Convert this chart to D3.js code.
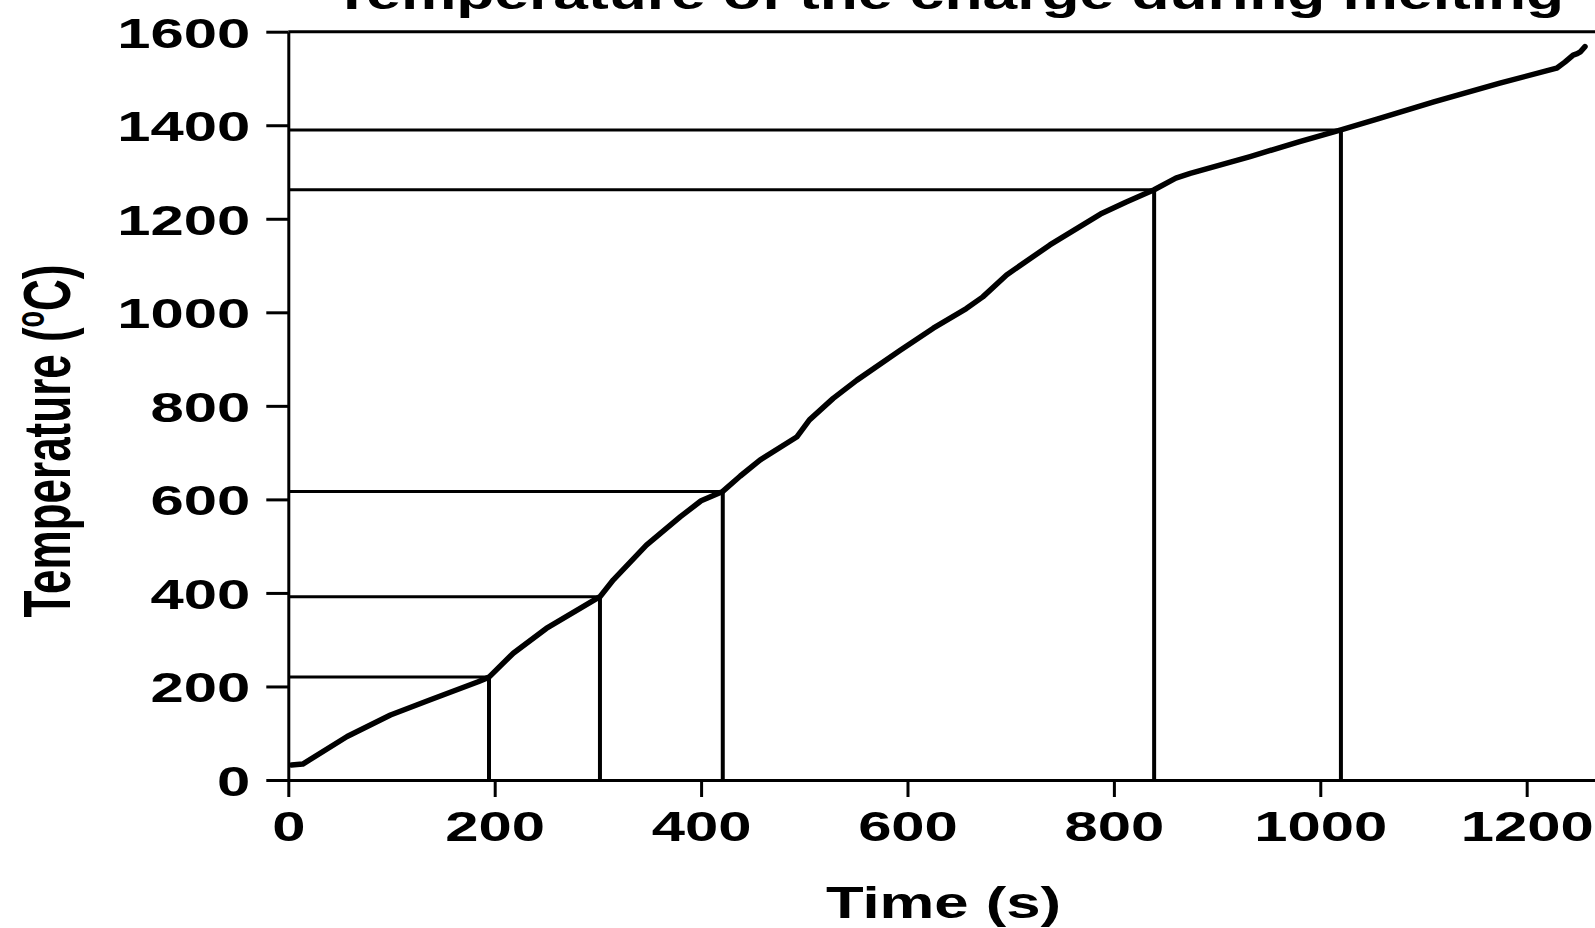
<!DOCTYPE html>
<html>
<head>
<meta charset="utf-8">
<script src="https://cdn.jsdelivr.net/npm/d3@7"></script>
<style>
  html, body { margin: 0; padding: 0; background: #fff; }
  svg { display: block; }
  text { font-family: "Liberation Sans", Arial, Helvetica, sans-serif; font-weight: bold; fill: #000; }
</style>
</head>
<body>
<svg id="chart" width="1595" height="928"></svg>
<script>
// Charge temperature recorded during melting
const timeSec = [3, 14, 57, 99, 137, 184, 194.5, 218, 250, 302, 315, 347, 380, 400, 421, 438, 457, 493, 505, 528, 551, 593, 625, 657, 673, 696, 738, 787, 812, 839, 860, 874, 932, 980, 1020, 1055, 1110, 1174, 1229, 1237, 1245, 1249, 1252, 1256.5];
const tempC   = [32, 34, 93, 139, 171, 210, 220, 271, 324, 392, 428, 502, 563, 597, 617, 650, 684, 734, 770, 816, 855, 919, 966, 1008, 1033, 1080, 1144, 1210, 1236, 1262, 1287, 1297, 1333, 1365, 1390, 1413, 1450, 1490, 1522, 1535, 1550, 1553, 1557, 1568];

// Marked stages: drop lines to the time axis, leader lines to the temperature axis
const markTime = [194.5, 302, 421, 839, 1020];
const markTemp = [220, 392, 617, 1262, 1390];

// Axis ticks and labels
const xMajor = [0, 200, 400, 600, 800, 1000, 1200];
const xMinor = [100, 300, 500, 700, 900, 1100];
const yMajor = [0, 200, 400, 600, 800, 1000, 1200, 1400, 1600];
const yMinor = [100, 300, 500, 700, 900, 1100, 1300, 1500];

const titleText = "Temperature of the charge during melting";
const xTitle = "Time (s)";
const yTitleMain = "Temperature (";
const yTitleSup = "o";
const yTitleEnd = "C)";

const svg = d3.select("#chart");
const W = 1595, H = 928;
svg.append("rect").attr("width", W).attr("height", H).attr("fill", "#fff");

const x = d3.scaleLinear().domain([0, 1266.2]).range([288.3, 1595]);
const y = d3.scaleLinear().domain([0, 1600]).range([780, 31.7]);

const SX = 1.39;   // wide bold lettering
const FS = 43;
const fmt = d3.format("d");

// reference lines
const refs = svg.append("g").attr("stroke", "#000").attr("fill", "none");
refs.selectAll("line.h").data(markTime).join("line")
  .attr("class", "h")
  .attr("x1", x(0)).attr("x2", (d) => x(d))
  .attr("y1", (d, i) => y(markTemp[i])).attr("y2", (d, i) => y(markTemp[i]))
  .attr("stroke-width", 3);
refs.selectAll("line.v").data(markTime).join("line")
  .attr("class", "v")
  .attr("x1", (d) => x(d)).attr("x2", (d) => x(d))
  .attr("y1", y(0)).attr("y2", (d, i) => y(markTemp[i]))
  .attr("stroke-width", 4);

// top frame line
svg.append("line")
  .attr("x1", x(0)).attr("x2", x(1266.2))
  .attr("y1", y(1600)).attr("y2", y(1600))
  .attr("stroke", "#000").attr("stroke-width", 3);

// x axis
const gx = svg.append("g").attr("transform", `translate(0,${y(0)})`);
gx.call(d3.axisBottom(x).tickValues(xMinor).tickSize(9).tickSizeOuter(0).tickFormat(""));
gx.call(d3.axisBottom(x).tickValues(xMajor).tickSize(17).tickSizeOuter(0).tickFormat(fmt));
gx.selectAll("path, line").attr("stroke", "#000").attr("stroke-width", 3);
gx.selectAll("text")
  .attr("font-size", FS).attr("fill", "#000")
  .attr("y", 0).attr("dy", null)
  .attr("transform", `translate(0,61) scale(${SX},1)`)
  .attr("text-anchor", "middle");

// y axis
const gy = svg.append("g").attr("transform", `translate(${x(0)},0)`);
gy.call(d3.axisLeft(y).tickValues(yMinor).tickSize(12).tickSizeOuter(0).tickFormat(""));
gy.call(d3.axisLeft(y).tickValues(yMajor).tickSize(22).tickSizeOuter(0).tickFormat(fmt));
gy.selectAll("path, line").attr("stroke", "#000").attr("stroke-width", 3);
gy.selectAll("text")
  .attr("font-size", FS).attr("fill", "#000")
  .attr("x", 0).attr("dy", "0.358em")
  .attr("transform", `translate(-38,0) scale(${SX},1)`)
  .attr("text-anchor", "end");

// temperature curve
const pts = timeSec.map((t, i) => [t, tempC[i]]);
svg.append("path")
  .datum(pts)
  .attr("fill", "none")
  .attr("stroke", "#000")
  .attr("stroke-width", 5.5)
  .attr("stroke-linejoin", "round")
  .attr("stroke-linecap", "round")
  .attr("d", d3.line().x((d) => x(d[0])).y((d) => y(d[1])));

// titles
svg.append("text")
  .attr("text-anchor", "middle")
  .attr("font-size", 45)
  .attr("transform", `translate(948.5,9) scale(1.385,1)`)
  .text(titleText);

svg.append("text")
  .attr("text-anchor", "middle")
  .attr("font-size", 45)
  .attr("transform", `translate(943.5,918) scale(1.37,1)`)
  .text(xTitle);

const yt = svg.append("text")
  .attr("text-anchor", "middle")
  .attr("font-size", 44)
  .attr("transform", `translate(70,441) rotate(-90) scale(1,1.52)`);
yt.append("tspan").text(yTitleMain);
yt.append("tspan").attr("font-size", 27).attr("dy", -17).text(yTitleSup);
yt.append("tspan").attr("dy", 17).text(yTitleEnd);
</script>
</body>
</html>
